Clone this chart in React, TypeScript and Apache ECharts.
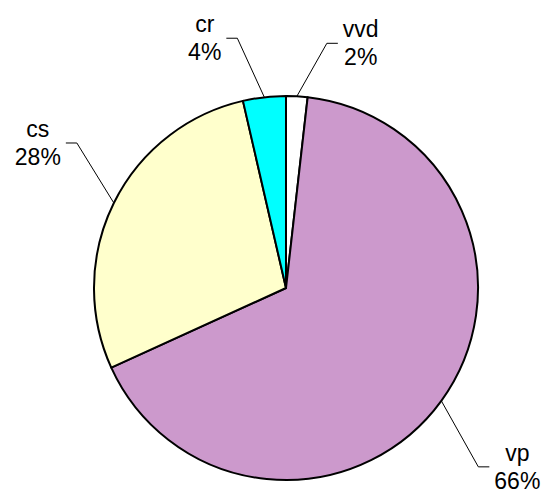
import React, { useEffect, useRef } from "react";
import * as echarts from "echarts";

const CATEGORIES = ["vvd", "vp", "cs", "cr"];
const VALUES = [1.8, 66.4, 28.2, 3.6];
const COLORS = ["#FFFFFF", "#CC99CC", "#FFFFCC", "#00FFFF"];
// label-line elbow offsets from the slice edge (styling only)
const LABEL_OFFSETS: number[][] = [
  [30, -53],
  [37, 66],
  [-37, -60],
  [-27, -59],
];

export default function App() {
  const ref = useRef<HTMLDivElement>(null);
  useEffect(() => {
    if (!ref.current) return;
    const chart = echarts.init(ref.current, undefined, { renderer: "svg" });
    const font = "'Liberation Sans', Arial, sans-serif";
    chart.setOption({
      animation: false,
      backgroundColor: "#FFFFFF",
      series: [
        {
          type: "pie",
          center: [286, 288],
          radius: 192,
          startAngle: 90,
          clockwise: true,
          percentPrecision: 0,
          avoidLabelOverlap: false,
          emphasis: { disabled: true },
          itemStyle: { borderColor: "#000000", borderWidth: 2 },
          label: {
            show: true,
            position: "outside",
            formatter: "{n|{b}}\n{p|{d}%}",
            color: "#000000",
            fontFamily: font,
            fontSize: 23,
            rich: {
              n: { align: "center", fontSize: 23, lineHeight: 28, fontFamily: font, color: "#000" },
              p: { align: "center", fontSize: 23, lineHeight: 28, fontFamily: font, color: "#000" },
            },
          },
          labelLine: {
            show: true,
            length: 20,
            length2: 11,
            lineStyle: { color: "#000000", width: 1 },
          },
          labelLayout: (params: any) => {
            const i = params.dataIndex;
            const pts = params.labelLinePoints;
            if (!pts) return {};
            const p0 = pts[0];
            const [ox, oy] = LABEL_OFFSETS[i];
            const side = ox >= 0 ? 1 : -1;
            const elbow = [p0[0] + ox, p0[1] + oy];
            const end = [elbow[0] + side * 11, elbow[1]];
            return {
              x: end[0] + side * 5,
              y: end[1],
              align: side > 0 ? "left" : "right",
              verticalAlign: "middle",
              labelLinePoints: [p0, elbow, end],
            };
          },
          data: CATEGORIES.map((name, i) => ({
            name,
            value: VALUES[i],
            itemStyle: { color: COLORS[i] },
          })),
        },
      ],
    });
    return () => chart.dispose();
  }, []);
  return (
    <div
      ref={ref}
      style={{ position: "absolute", left: 0, top: 0, width: 544, height: 495 }}
    />
  );
}
